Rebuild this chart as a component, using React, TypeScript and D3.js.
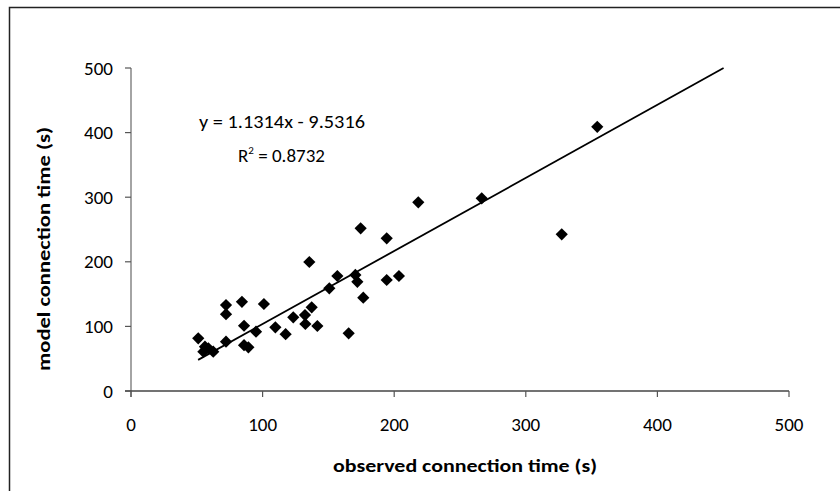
import React from "react";
import * as d3 from "d3";

const observed = [51.1, 56.2, 55, 58.8, 62.5, 72.2, 72.2, 72.2, 84.3, 85.9, 85.9, 89.2, 95, 101, 109.7, 117.5, 123.3, 132.2, 132.5, 137.3, 141.6, 135.5, 150.7, 156.8, 165.4, 170.5, 172, 176.5, 174.5, 194.3, 194.3, 203.6, 218.3, 266.5, 327.3, 354.3];
const model = [81.6, 68.6, 60.8, 66, 60.8, 76.3, 133, 119, 138, 101, 71, 67.6, 91.8, 134.7, 98.6, 88, 114, 117.6, 103.7, 129.5, 100.6, 199.7, 159, 178, 89.3, 179.6, 169, 144.4, 251.8, 236.4, 171.8, 178, 292, 298.3, 242.5, 409];
const xTicks = [0, 100, 200, 300, 400, 500];
const yTicks = [0, 100, 200, 300, 400, 500];
const slope = 1.1314;
const intercept = -9.5316;
const trendRange = [51, 450.3];
const equationText = "y = 1.1314x - 9.5316";
const r2Value = "0.8732";
const xTitle = "observed connection time (s)";
const yTitle = "model connection time (s)";

export default function App() {
  const W = 840, H = 491;
  const x = d3.scaleLinear().domain([0, 500]).range([131, 789]);
  const y = d3.scaleLinear().domain([0, 500]).range([391, 68]);
  const font = "Carlito, Lato, 'Open Sans', sans-serif";
  const line = d3.line<number>().x((d) => x(d)).y((d) => y(slope * d + intercept));
  const diamond = d3.symbol().type(d3.symbolDiamond2 || d3.symbolDiamond).size(95)();
  const pts = observed.map((v, i) => [v, model[i]]);
  return (
    <svg width={W} height={H} style={{ position: "absolute", left: 0, top: 0, background: "#fff" }}>
      <rect x={9.5} y={7.5} width={900} height={600} fill="#fff" stroke="#222" strokeWidth={1.5} />
      {/* axes */}
      <line x1={x(0)} x2={x(0)} y1={y(500)} y2={y(0) + 6} stroke="#868686" strokeWidth={1.5} />
      <line x1={x(0) - 6} x2={x(500)} y1={y(0)} y2={y(0)} stroke="#444" strokeWidth={1.5} />
      {yTicks.map((t) => (
        <g key={"y" + t}>
          <line x1={x(0) - 6} x2={x(0)} y1={y(t)} y2={y(t)} stroke="#555" strokeWidth={1.2} />
          <text x={113} y={y(t)} dy="0.35em" textAnchor="end" fontFamily={font} fontSize={19} fill="#000">{t}</text>
        </g>
      ))}
      {xTicks.map((t) => (
        <g key={"x" + t}>
          <line x1={x(t)} x2={x(t)} y1={y(0)} y2={y(0) + 6} stroke="#555" strokeWidth={1.2} />
          <text x={x(t)} y={424} dy="0.35em" textAnchor="middle" fontFamily={font} fontSize={19} fill="#000">{t}</text>
        </g>
      ))}
      {/* points */}
      {pts.map((p, i) => (
        <path key={i} d={diamond} transform={`translate(${x(p[0])},${y(p[1])})`} fill="#000" />
      ))}
      {/* trend line */}
      <path d={line(trendRange) || ""} fill="none" stroke="#000" strokeWidth={1.8} />
      {/* equation */}
      <text x={199} y={121} dy="0.35em" fontFamily={font} fontSize={19} fill="#000" textLength={166} lengthAdjust="spacingAndGlyphs">{equationText}</text>
      <text x={238} y={155} dy="0.35em" fontFamily={font} fontSize={19} fill="#000">
        R<tspan dy="-8" fontSize={11}>2</tspan><tspan dy="8"> = {r2Value}</tspan>
      </text>
      {/* titles */}
      <text x={465} y={466} dy="0.35em" textAnchor="middle" fontFamily={font} fontSize={18} fontWeight="bold" fill="#000" textLength={264} lengthAdjust="spacingAndGlyphs">{xTitle}</text>
      <text transform={`translate(44,249) rotate(-90)`} dy="0.35em" textAnchor="middle" fontFamily={font} fontSize={18} fontWeight="bold" fill="#000" textLength={244} lengthAdjust="spacingAndGlyphs">{yTitle}</text>
    </svg>
  );
}
